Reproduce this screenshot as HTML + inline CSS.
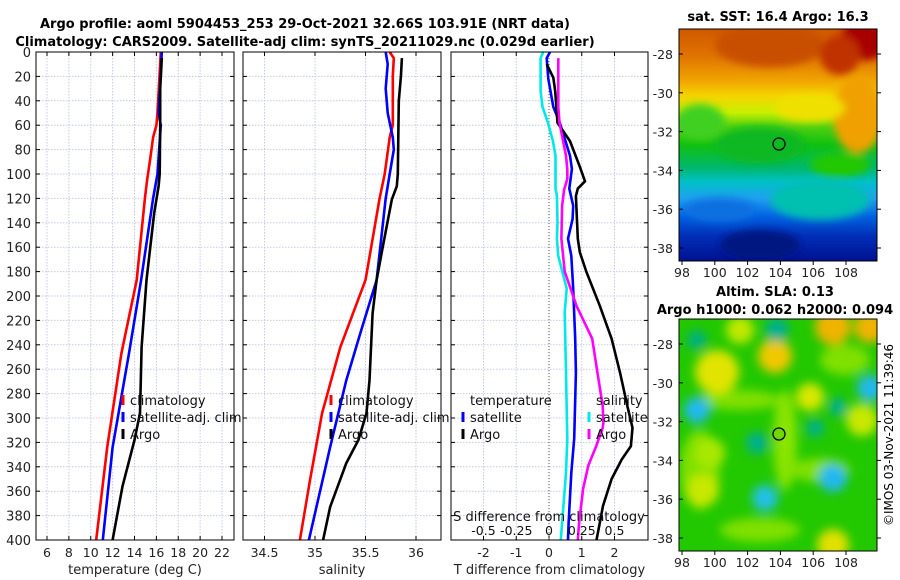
<!DOCTYPE html>
<html><head><meta charset="utf-8">
<style>
body{margin:0;background:#fff;width:900px;height:580px;overflow:hidden}
svg{display:block;font-family:"DejaVu Sans","Liberation Sans",sans-serif}
</style></head>
<body>
<svg id="chart" width="900" height="580" xmlns="http://www.w3.org/2000/svg">
<defs>
<filter id="bl" x="-30%" y="-30%" width="160%" height="160%"><feGaussianBlur stdDeviation="5"/></filter>
<filter id="bl2" x="-20%" y="-20%" width="140%" height="140%"><feGaussianBlur stdDeviation="4"/></filter>
<clipPath id="cTop"><rect x="679" y="29" width="198" height="232"/></clipPath>
<clipPath id="cBot"><rect x="679" y="319" width="198" height="232"/></clipPath>
<linearGradient id="sstG" x1="0" y1="0" x2="0" y2="1">
<stop offset="0" stop-color="#d05800"/><stop offset="0.12" stop-color="#e07400"/>
<stop offset="0.22" stop-color="#f0a400"/><stop offset="0.29" stop-color="#f5d400"/>
<stop offset="0.36" stop-color="#c8f000"/><stop offset="0.42" stop-color="#50d010"/>
<stop offset="0.50" stop-color="#10c010"/><stop offset="0.60" stop-color="#00b870"/>
<stop offset="0.66" stop-color="#00c0c8"/><stop offset="0.73" stop-color="#20a0f0"/>
<stop offset="0.81" stop-color="#0060e0"/><stop offset="0.89" stop-color="#0030b8"/>
<stop offset="1" stop-color="#001090"/></linearGradient>
</defs>
<text x="305" y="28" text-anchor="middle" font-size="13" font-weight="bold">Argo profile: aoml 5904453_253 29-Oct-2021 32.66S 103.91E (NRT data)</text>
<text x="305" y="46" text-anchor="middle" font-size="13" font-weight="bold">Climatology: CARS2009. Satellite-adj clim: synTS_20211029.nc (0.029d earlier)</text>

<g clip-path="url(#cTop)">
<rect x="679" y="29" width="198" height="232" fill="url(#sstG)"/>
<g filter="url(#bl2)">
<ellipse cx="770" cy="45" rx="55" ry="22" fill="#c85000"/>
<ellipse cx="865" cy="40" rx="25" ry="20" fill="#a80000"/>
<ellipse cx="840" cy="55" rx="20" ry="20" fill="#c03000"/>
<ellipse cx="858" cy="115" rx="25" ry="38" fill="#f0a000"/>
<ellipse cx="810" cy="108" rx="35" ry="14" fill="#f0e000"/>
<ellipse cx="700" cy="122" rx="25" ry="18" fill="#40d020"/>
<ellipse cx="760" cy="145" rx="45" ry="18" fill="#10b820"/>
<ellipse cx="840" cy="165" rx="30" ry="12" fill="#20c800"/>
<ellipse cx="820" cy="200" rx="50" ry="20" fill="#00c0b0"/>
<ellipse cx="720" cy="210" rx="35" ry="12" fill="#1070e0"/>
<ellipse cx="760" cy="245" rx="40" ry="15" fill="#001480"/>
</g>
</g>
<rect x="679" y="29" width="198" height="232" fill="none" stroke="#000" stroke-width="1"/>

<g clip-path="url(#cBot)">
<rect x="679" y="319" width="198" height="232" fill="#22c800"/>
<g filter="url(#bl)">
<ellipse cx="785" cy="440" rx="12" ry="50" fill="#88e400"/>
<ellipse cx="740" cy="400" rx="40" ry="10" fill="#80e000"/>
<ellipse cx="820" cy="470" rx="30" ry="12" fill="#80e000"/>
<ellipse cx="700" cy="470" rx="20" ry="40" fill="#80e000"/>
<ellipse cx="845" cy="360" rx="25" ry="15" fill="#80e000"/>
<ellipse cx="760" cy="530" rx="40" ry="12" fill="#80e000"/>
<circle cx="717" cy="372" r="22" fill="#e0e400"/>
<circle cx="775" cy="356" r="17" fill="#f0c800"/>
<circle cx="833" cy="327" r="18" fill="#f0b400"/>
<circle cx="870" cy="327" r="16" fill="#f0b400"/>
<circle cx="810" cy="397" r="14" fill="#d8e800"/>
<circle cx="710" cy="453" r="15" fill="#a8e800"/>
<circle cx="703" cy="490" r="16" fill="#c8e800"/>
<circle cx="833" cy="545" r="16" fill="#e0e000"/>
<circle cx="862" cy="420" r="16" fill="#c8e800"/>
<circle cx="740" cy="330" r="14" fill="#c0e800"/>
<circle cx="697" cy="410" r="13" fill="#20b8f0"/>
<circle cx="765" cy="498" r="13" fill="#20c0e8"/>
<circle cx="833" cy="478" r="14" fill="#20b8f0"/>
<circle cx="870" cy="388" r="13" fill="#20b8f0"/>
<circle cx="777" cy="330" r="12" fill="#00b090"/>
<circle cx="697" cy="340" r="10" fill="#00b080"/>
<circle cx="757" cy="443" r="11" fill="#00b090"/>
<circle cx="815" cy="428" r="9" fill="#00b090"/>
<circle cx="838" cy="407" r="9" fill="#00b090"/>
</g>
</g>
<rect x="679" y="319" width="198" height="232" fill="none" stroke="#000" stroke-width="1"/>
<circle cx="779" cy="144" r="6" fill="none" stroke="#000" stroke-width="1.3"/>
<circle cx="779" cy="434" r="6" fill="#70d800" stroke="#000" stroke-width="1.3"/>
<text x="778" y="21" text-anchor="middle" font-size="13" font-weight="bold">sat. SST: 16.4 Argo: 16.3</text>
<text x="775" y="296" text-anchor="middle" font-size="13" font-weight="bold">Altim. SLA: 0.13</text>
<text x="775" y="314" text-anchor="middle" font-size="13" font-weight="bold">Argo h1000: 0.062 h2000: 0.094</text>
<text transform="translate(893,435) rotate(-90)" text-anchor="middle" font-size="12">©IMOS 03-Nov-2021 11:39:46</text>
<g id="dyn"></g>
</svg>
<script>
// ---- data (depth in dbar) ----
const climTDepth=[0,50,60,70,90,105,120,187,247,324,400];
const climT=[16.4,16.1,16.0,15.7,15.4,15.15,14.95,14.2,12.8,11.5,10.5];
const satTDepth=[0,50,60,100,120,187,247,324,400];
const satT=[16.5,16.2,16.4,16.1,15.7,14.6,13.5,12.0,11.1];
const argoTDepth=[5,30,60,100,110,132,187,242,296,318,356,400];
const argoT=[16.5,16.35,16.35,16.3,16.2,15.8,15.1,14.65,14.5,14.0,12.9,12.0];

const climSDepth=[0,5,20,60,70,100,120,187,242,296,351,400];
const climS=[35.74,35.78,35.77,35.77,35.74,35.69,35.64,35.5,35.25,35.07,34.95,34.85];
const satSDepth=[0,10,30,50,70,80,100,120,187,230,269,324,400];
const satS=[35.70,35.72,35.70,35.72,35.77,35.78,35.74,35.70,35.61,35.45,35.31,35.15,34.94];
const argoSDepth=[5,20,40,100,110,121,160,187,214,269,296,318,337,373,400];
const argoS=[35.86,35.85,35.83,35.82,35.81,35.76,35.67,35.61,35.57,35.54,35.51,35.43,35.31,35.15,35.08];

const dTsatDepth=[0,5,22,45,58,85,96,112,126,137,153,167,194,235,263,317,345,386,400];
const dTsat=[0.03,-0.07,-0.02,0.13,0.33,0.64,0.70,0.62,0.74,0.72,0.58,0.68,0.74,0.80,0.82,0.77,0.68,0.60,0.58];
const dTargoDepth=[10,21,32,58,73,94,106,112,118,153,164,180,208,235,263,290,308,323,334,350,372,386,400];
const dTargo=[-0.07,0.13,0.19,0.26,0.64,0.94,1.1,0.88,0.82,0.88,0.94,1.14,1.55,1.91,2.17,2.39,2.55,2.5,2.22,1.91,1.65,1.55,1.45];
const dSargoDepth=[5,45,58,85,96,104,113,126,153,180,208,235,263,290,304,308,323,339,358,386,400];
const dSargo=[0.071,0.071,0.08,0.13,0.14,0.14,0.115,0.10,0.095,0.12,0.21,0.33,0.37,0.41,0.415,0.41,0.36,0.30,0.26,0.23,0.22];
const dSsatDepth=[0,5,32,45,58,73,85,112,118,140,153,167,194,213,263,317,345,386,400];
const dSsat=[-0.045,-0.064,-0.064,-0.05,-0.008,0.03,0.05,0.05,0.06,0.065,0.06,0.07,0.135,0.12,0.13,0.14,0.13,0.10,0.09];

const depthTicks=[0,20,40,60,80,100,120,140,160,180,200,220,240,260,280,300,320,340,360,380,400];
const tempTicks=[6,8,10,12,14,16,18,20,22];
const salTicks=[34.5,35,35.5,36];
const tdiffTicks=[-2,-1,0,1,2];
const sdiffTicks=[-0.5,-0.25,0,0.25,0.5];
const sdiffTickLabels=['-0.5','-0.25','0','0.25','0.5'];
const latTicks=[-28,-30,-32,-34,-36,-38];
const lonTicks=[98,100,102,104,106,108];

const NS='http://www.w3.org/2000/svg';
const root=document.getElementById('dyn');
function mk(tag,attrs,parent){const e=document.createElementNS(NS,tag);for(const k in attrs)e.setAttribute(k,attrs[k]);(parent||root).appendChild(e);return e;}
const Y0=52,Y1=540;
const yScale=d=>Y0+d*(Y1-Y0)/400;
function lin(d0,d1,r0,r1){return v=>r0+(v-d0)*(r1-r0)/(d1-d0);}

function drawPanel(name,x0,x1,xs,ticks,labels,title,showY){
  const g=mk('g',{});
  
  
  ticks.forEach(t=>{const x=xs(t);
    const l=mk('line',{x1:x,x2:x,y1:Y0,y2:Y1,stroke:'#c4cae8','stroke-width':1,'stroke-dasharray':'1.5,1.5'},g);
    
    
    mk('line',{x1:x,x2:x,y1:Y1,y2:Y1-4,stroke:'#000'},g);
    mk('line',{x1:x,x2:x,y1:Y0,y2:Y0+4,stroke:'#000'},g);
  });
  depthTicks.forEach(d=>{const y=yScale(d);
    const l=mk('line',{x1:x0,x2:x1,y1:y,y2:y,stroke:'#c4cae8','stroke-width':1,'stroke-dasharray':'1.5,1.5'},g);
    
    
    mk('line',{x1:x0,x2:x0+4,y1:y,y2:y,stroke:'#000'},g);
    mk('line',{x1:x1,x2:x1-4,y1:y,y2:y,stroke:'#000'},g);
    if(showY){const t=mk('text',{x:x0-5,y:y+5,'text-anchor':'end','font-size':13,fill:'#222'},g);t.textContent=d;
      
      }
  });
  ticks.forEach((t,i)=>{const tx=mk('text',{x:xs(t),y:557,'text-anchor':'middle','font-size':12.5,fill:'#222'},g);tx.textContent=labels[i];
    
    });
  const tt=mk('text',{x:(x0+x1)/2,y:574,'text-anchor':'middle','font-size':13,fill:'#222'},g);tt.textContent=title;
  
  
  return g;
}
function frame(x0,x1){const r=mk('rect',{x:x0,y:Y0,width:x1-x0,height:Y1-Y0,fill:'none',stroke:'#000','stroke-width':1});
  
  }
function series(name,xs,vals,depths,color,x0,x1){
  const cid='c'+name;
  const cp=mk('clipPath',{id:cid});mk('rect',{x:x0,y:Y0,width:x1-x0,height:Y1-Y0},cp);
  const pts=vals.map((v,i)=>xs(v).toFixed(1)+','+yScale(depths[i]).toFixed(1)).join(' ');
  const p=mk('polyline',{points:pts,fill:'none',stroke:color,'stroke-width':2.6,'stroke-linejoin':'round','clip-path':'url(#'+cid+')'});
  
  
}
function legend(x,y,color,label,name){
  const b=mk('line',{x1:x,x2:x,y1:y-10,y2:y,stroke:color,'stroke-width':3});
  
  
  const t=mk('text',{x:x+7,y:y,'font-size':13,fill:'#111'});t.textContent=label;
  
  
}

// Panel 1: temperature
const xT=lin(6,22,47,222);
drawPanel('temperature',36,234,xT,tempTicks,tempTicks.map(String),'temperature (deg C)',true);
series('temp-climatology',xT,climT,climTDepth,'#ff0000',36,234);
series('temp-satellite-adj',xT,satT,satTDepth,'#0000ff',36,234);
series('temp-argo',xT,argoT,argoTDepth,'#000000',36,234);
frame(36,234);

// Panel 2: salinity
const xS=lin(35,36,315,416);
drawPanel('salinity',243,441,xS,salTicks,salTicks.map(String),'salinity',false);
series('sal-climatology',xS,climS,climSDepth,'#ff0000',243,441);
series('sal-satellite-adj',xS,satS,satSDepth,'#0000ff',243,441);
series('sal-argo',xS,argoS,argoSDepth,'#000000',243,441);
frame(243,441);

// Panel 3: differences
const xD=lin(0,1,549,581.75);
const xSD=lin(0,1,549,680);
drawPanel('difference',451,648,xD,tdiffTicks,tdiffTicks.map(String),'T difference from climatology',false);
const zl=mk('line',{x1:xD(0),x2:xD(0),y1:Y0,y2:Y1,stroke:'#555','stroke-width':1,'stroke-dasharray':'1,2'});


series('dT-satellite',xD,dTsat,dTsatDepth,'#0000ff',451,648);
series('dT-argo',xD,dTargo,dTargoDepth,'#000000',451,648);
series('dS-satellite',xSD,dSsat,dSsatDepth,'#00e8e8',451,648);
series('dS-argo',xSD,dSargo,dSargoDepth,'#ff00ff',451,648);
frame(451,648);
const st=mk('text',{x:549,y:521,'text-anchor':'middle','font-size':13,fill:'#111'});st.textContent='S difference from climatology';


sdiffTicks.forEach((v,i)=>{const t=mk('text',{x:xSD(v),y:535,'text-anchor':'middle','font-size':12.5,fill:'#111'});t.textContent=sdiffTickLabels[i];
  
  });

// Legends
legend(123,405,'#ff0000','climatology','climatology');
legend(123,422,'#0000ff','satellite-adj. clim','satellite-adj');
legend(123,439,'#000000','Argo','argo');
legend(331,405,'#ff0000','climatology','sal-climatology');
legend(331,422,'#0000ff','satellite-adj. clim','sal-satellite-adj');
legend(331,439,'#000000','Argo','sal-argo');
const h1=mk('text',{x:470,y:405,'font-size':13,fill:'#111'});h1.textContent='temperature';


legend(463,422,'#0000ff','satellite','dT-satellite');
legend(463,439,'#000000','Argo','dT-argo');
const h2=mk('text',{x:596,y:405,'font-size':13,fill:'#111'});h2.textContent='salinity';


legend(589,422,'#00e8e8','satellite','dS-satellite');
legend(589,439,'#ff00ff','Argo','dS-argo');

// Map axes
const lonX=lin(98,108,682,846);
function mapAxes(top,lat28,lat38,name){
  const latY=lin(-28,-38,lat28,lat38);
  latTicks.forEach(l=>{const y=latY(l);
    mk('line',{x1:679,x2:683,y1:y,y2:y,stroke:'#000'});
    mk('line',{x1:877,x2:881,y1:y,y2:y,stroke:'#000'});
    const t=mk('text',{x:673,y:y+5,'text-anchor':'end','font-size':12.5,fill:'#222'});t.textContent=l;
    
    });
  lonTicks.forEach(l=>{const x=lonX(l);
    mk('line',{x1:x,x2:x,y1:top+232,y2:top+236,stroke:'#000'});
    const t=mk('text',{x:x,y:top+248,'text-anchor':'middle','font-size':12.5,fill:'#222'});t.textContent=l;
    
    });
}
mapAxes(29,54,248,'sst-map');
mapAxes(319,344,538,'sla-map');
</script>
</body></html>
